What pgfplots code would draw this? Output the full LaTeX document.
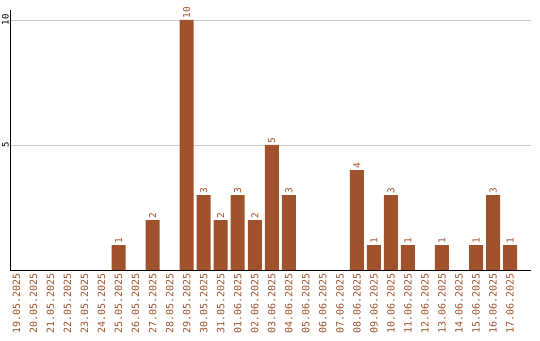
\documentclass[border=0pt]{standalone}
\usepackage{pgfplots}
\pgfplotsset{compat=1.18}
\usepackage{fontspec}
\setmainfont{DejaVu Sans Mono}
\definecolor{barc}{HTML}{A0522D}
\definecolor{labc}{HTML}{A0522D}
\definecolor{gridc}{HTML}{C8C8C8}
\begin{document}
\begin{tikzpicture}
\useasboundingbox (-10.5pt,-70pt) rectangle (529.5pt,270pt);
\begin{axis}[
  at={(0pt,0pt)}, anchor=south west,
  scale only axis, width=520pt, height=260pt,
  xmin=-0.35, xmax=30.2, ymin=0, ymax=10.4,
  /pgf/number format/assume math mode=true,
  axis x line=bottom, axis y line=left,
  axis line style={-, black, line width=1pt},
  major tick length=0pt,
  ytick={5,10},
  ymajorgrids, grid style={gridc, line width=0.8pt},
  yticklabel style={rotate=90, anchor=south, inner sep=1.5pt, font=\fontsize{9}{10}\selectfont, text=black},
  xtick={0,...,29},
  xticklabels={19.05.2025,20.05.2025,21.05.2025,22.05.2025,23.05.2025,24.05.2025,25.05.2025,26.05.2025,27.05.2025,28.05.2025,29.05.2025,30.05.2025,31.05.2025,01.06.2025,02.06.2025,03.06.2025,04.06.2025,05.06.2025,06.06.2025,07.06.2025,08.06.2025,09.06.2025,10.06.2025,11.06.2025,12.06.2025,13.06.2025,14.06.2025,15.06.2025,16.06.2025,17.06.2025},
  xticklabel style={rotate=90, anchor=east, inner ysep=0pt, inner xsep=3.5pt, font=\fontsize{10}{11}\selectfont, text=labc},
  nodes near coords,
  nodes near coords style={rotate=90, anchor=west, inner sep=1.5pt, font=\fontsize{9.5}{10}\selectfont, text=labc},
  clip=false,
]
\addplot[ybar, bar width=14pt, fill=barc, draw=none] coordinates {
(6,1) (8,2) (10,10) (11,3) (12,2) (13,3) (14,2) (15,5) (16,3)
(20,4) (21,1) (22,3) (23,1) (25,1) (27,1) (28,3) (29,1)
};
\end{axis}
\end{tikzpicture}
\end{document}
